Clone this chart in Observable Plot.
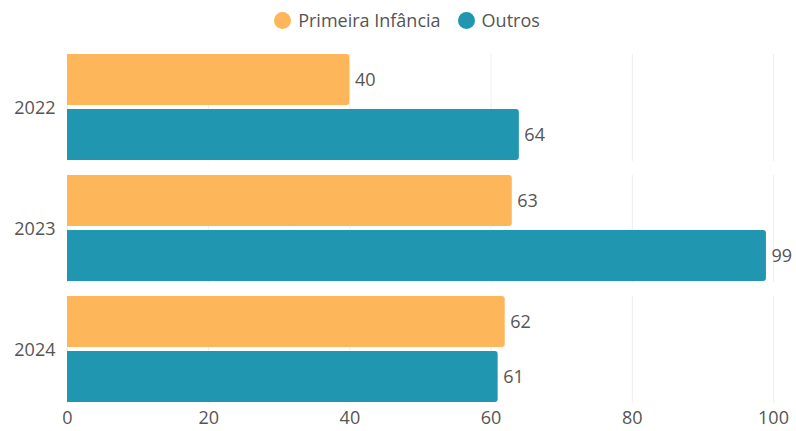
<!DOCTYPE html>
<html><head><meta charset="utf-8">
<script src="https://cdn.jsdelivr.net/npm/d3@7"></script>
<script src="https://cdn.jsdelivr.net/npm/@observablehq/plot@0.6"></script>
<style>
body{margin:0;background:#fff;font-family:"Open Sans",sans-serif;}
#legend{height:40px;display:flex;justify-content:center;align-items:center;gap:17px;font-size:18px;color:#555;padding-left:18px;box-sizing:border-box;}
.item{display:flex;align-items:center;gap:7px;}
.dot{width:17px;height:17px;border-radius:50%;display:inline-block;}
</style></head>
<body>
<div id="legend"></div>
<div id="chart"></div>
<script>
const years = ["2022","2023","2024"];
const series = ["Primeira Infância","Outros"];
const primeira = [40,63,62];
const outros = [64,99,61];
const colors = ["#FDB65A","#2196B0"];
const xTicks = [0,20,40,60,80,100];

const data = [];
years.forEach((y,i)=>{
  data.push({year:y, series:series[0], value:primeira[i]});
  data.push({year:y, series:series[1], value:outros[i]});
});

const lg = document.getElementById("legend");
series.forEach((s,i)=>{
  const it = document.createElement("div"); it.className="item";
  const d = document.createElement("span"); d.className="dot"; d.style.background=colors[i];
  const t = document.createElement("span"); t.textContent=s;
  it.append(d,t); lg.append(it);
});

const chart = Plot.plot({
  width:796, height:391,
  marginTop:13, marginBottom:27, marginLeft:67, marginRight:23,
  style:{fontFamily:"'Open Sans', sans-serif", fontSize:"18px", color:"#555", background:"#fff", overflow:"visible"},
  x:{domain:[0,100], ticks:xTicks, tickSize:0, tickPadding:8, label:null},
  y:{domain:series, paddingInner:0.07, paddingOuter:0, axis:null},
  fy:{domain:years, paddingInner:0.115, paddingOuter:0, label:null, tickSize:0, tickPadding:12},
  color:{domain:series, range:colors},
  marks:[
    Plot.gridX(xTicks, {stroke:"#eeeeee", strokeOpacity:1, facet:"exclude"}),
    Plot.barX(data, {fy:"year", y:"series", x:"value", fill:"series", rx:3}),
    Plot.barX(data, {fy:"year", y:"series", x1:0, x2:d=>d.value/2, fill:"series"}),
    Plot.text(data, {fy:"year", y:"series", x:"value", text:d=>String(d.value), textAnchor:"start", dx:5, fill:"#555", fontSize:18})
  ]
});
document.getElementById("chart").append(chart);
</script>
</body></html>
